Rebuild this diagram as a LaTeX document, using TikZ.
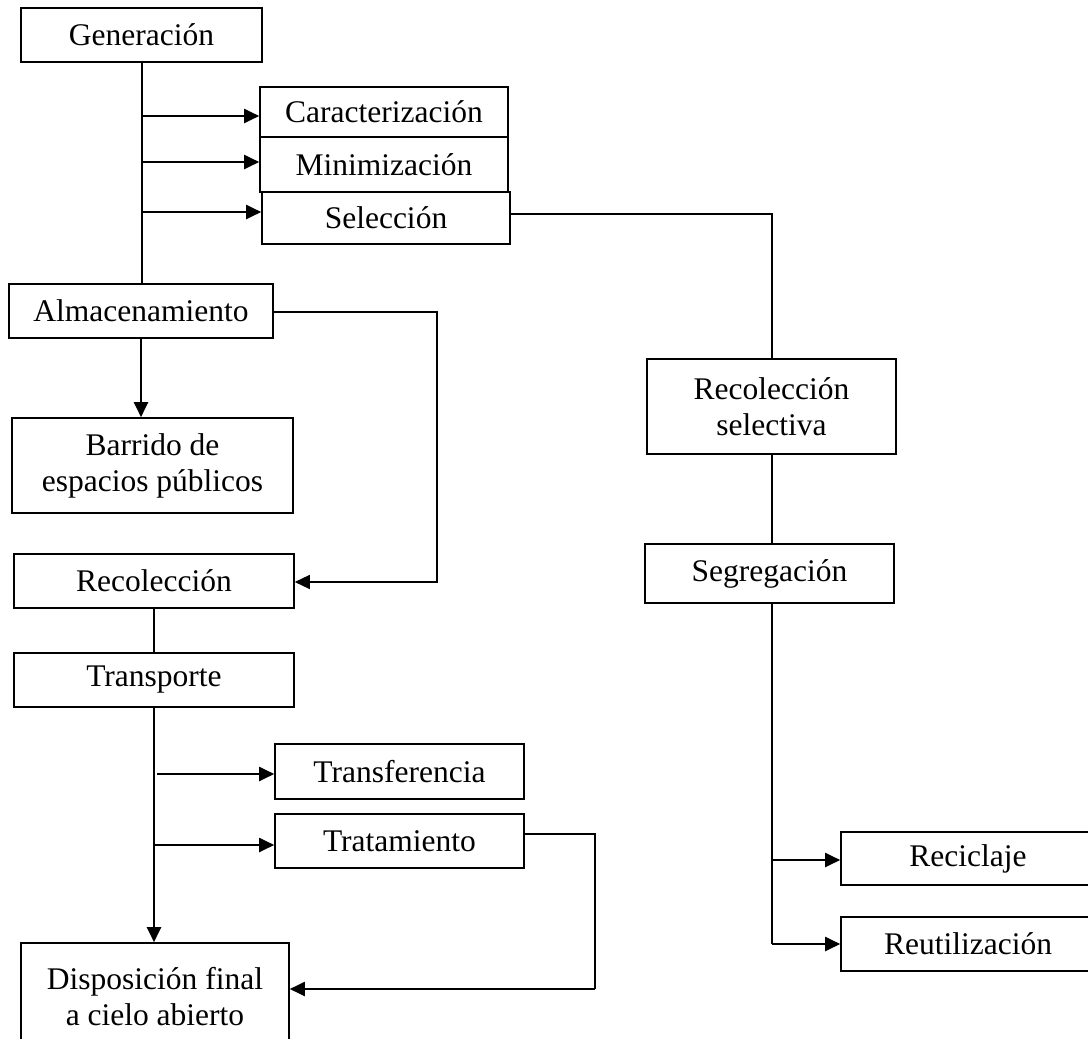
\documentclass[tikz,border=0pt]{standalone}
\usepackage{fontspec}
\setmainfont{Liberation Serif}
\usetikzlibrary{arrows.meta}
\begin{document}
\begin{tikzpicture}[x=1pt,y=-1pt,
  box/.style={draw,line width=1.6pt,inner sep=0pt,align=center,
    font=\fontsize{31.5}{36}\selectfont},
  thk/.style={line width=2pt},
  thn/.style={line width=1.4pt},
  arr/.style={-{Triangle[length=15pt,width=14pt]}}]
\useasboundingbox (0,0) rectangle (1088,1039);
\fill[white] (0,0) rectangle (1088,1039);
\begin{scope}
\clip (0,0) rectangle (1088,1039);
% nodes: center at ((x1+x2)/2,(y1+y2)/2)
\node[box,minimum width=241pt,minimum height=54pt] (gen) at (141.5,35) {Generación};
\node[box,minimum width=248pt,minimum height=50pt] (car) at (384,112) {Caracterización};
\node[box,minimum width=248pt,minimum height=55pt] (min) at (384,164.5) {Minimización};
\node[box,minimum width=248pt,minimum height=52pt] (sel) at (386,218) {Selección};
\node[box,minimum width=264pt,minimum height=54pt] (alm) at (141,311) {Almacenamiento};
\node[box,minimum width=281pt,minimum height=95pt] (bar) at (152.5,465.5) {Barrido de\\espacios públicos};
\node[box,minimum width=280pt,minimum height=54pt] (rec) at (154,581) {Recolección};
\node[box,minimum width=280pt,minimum height=54pt] (tra) at (154,680) {Transporte};
\node[box,minimum width=249pt,minimum height=55pt] (tsf) at (399.5,771.5) {Transferencia};
\node[box,minimum width=249pt,minimum height=54pt] (tto) at (399.5,841) {Tratamiento};
\node[box,minimum width=268pt,minimum height=107pt] (dis) at (155,996.5) {Disposición final\\a cielo abierto};
\node[box,minimum width=249pt,minimum height=95pt] (rs) at (771.5,406.5) {Recolección\\selectiva};
\node[box,minimum width=249pt,minimum height=59pt] (seg) at (769.5,573.5) {Segregación};
\node[box,minimum width=254pt,minimum height=53pt] (rcl) at (968,858.5) {Reciclaje};
\node[box,minimum width=254pt,minimum height=54pt] (reu) at (968,944) {Reutilización};
% coordinates
\coordinate (t1) at (142,116);
\coordinate (t2) at (142,162);
\coordinate (t3) at (142,212);
\coordinate (sa) at (510,214);
\coordinate (sb) at (772,214);
\coordinate (aa) at (273,312);
\coordinate (ab) at (437,312);
\coordinate (ac) at (437,582);
\coordinate (u1) at (157,774);
\coordinate (u2) at (153,845);
\coordinate (ta) at (524,834);
\coordinate (tb) at (595,834);
\coordinate (tc) at (595,989);
\coordinate (g1) at (772,860);
\coordinate (g2) at (772,944);
% connectors
\draw[thk] (gen.south) -- (gen.south |- alm.north);
\draw[thk,arr] (t1) -- (t1 -| car.west);
\draw[thk,arr] (t2) -- (t2 -| min.west);
\draw[thk,arr] (t3) -- (t3 -| sel.west);
\draw[thn] (sa) -- (sb) -- (sb |- rs.north);
\draw[thn] (rs.south -| sb) -- (seg.north -| sb);
\draw[thk] (seg.south -| sb) -- (g2);
\draw[thk,arr] (g1) -- (g1 -| rcl.west);
\draw[thk,arr] (g2) -- (g2 -| reu.west);
\draw[thk,arr] (alm.south) -- (alm.south |- bar.north);
\draw[thn,arr] (aa) -- (ab) -- (ac) -- (ac -| rec.east);
\draw[thk] (rec.south) -- (rec.south |- tra.north);
\draw[thk,arr] (tra.south) -- (tra.south |- dis.north);
\draw[thk,arr] (u1) -- (u1 -| tsf.west);
\draw[thk,arr] (u2) -- (u2 -| tto.west);
\draw[thn] (ta) -- (tb) -- (tc);
\draw[thk,arr] (tc) -- (tc -| dis.east);
\end{scope}
\end{tikzpicture}
\end{document}
